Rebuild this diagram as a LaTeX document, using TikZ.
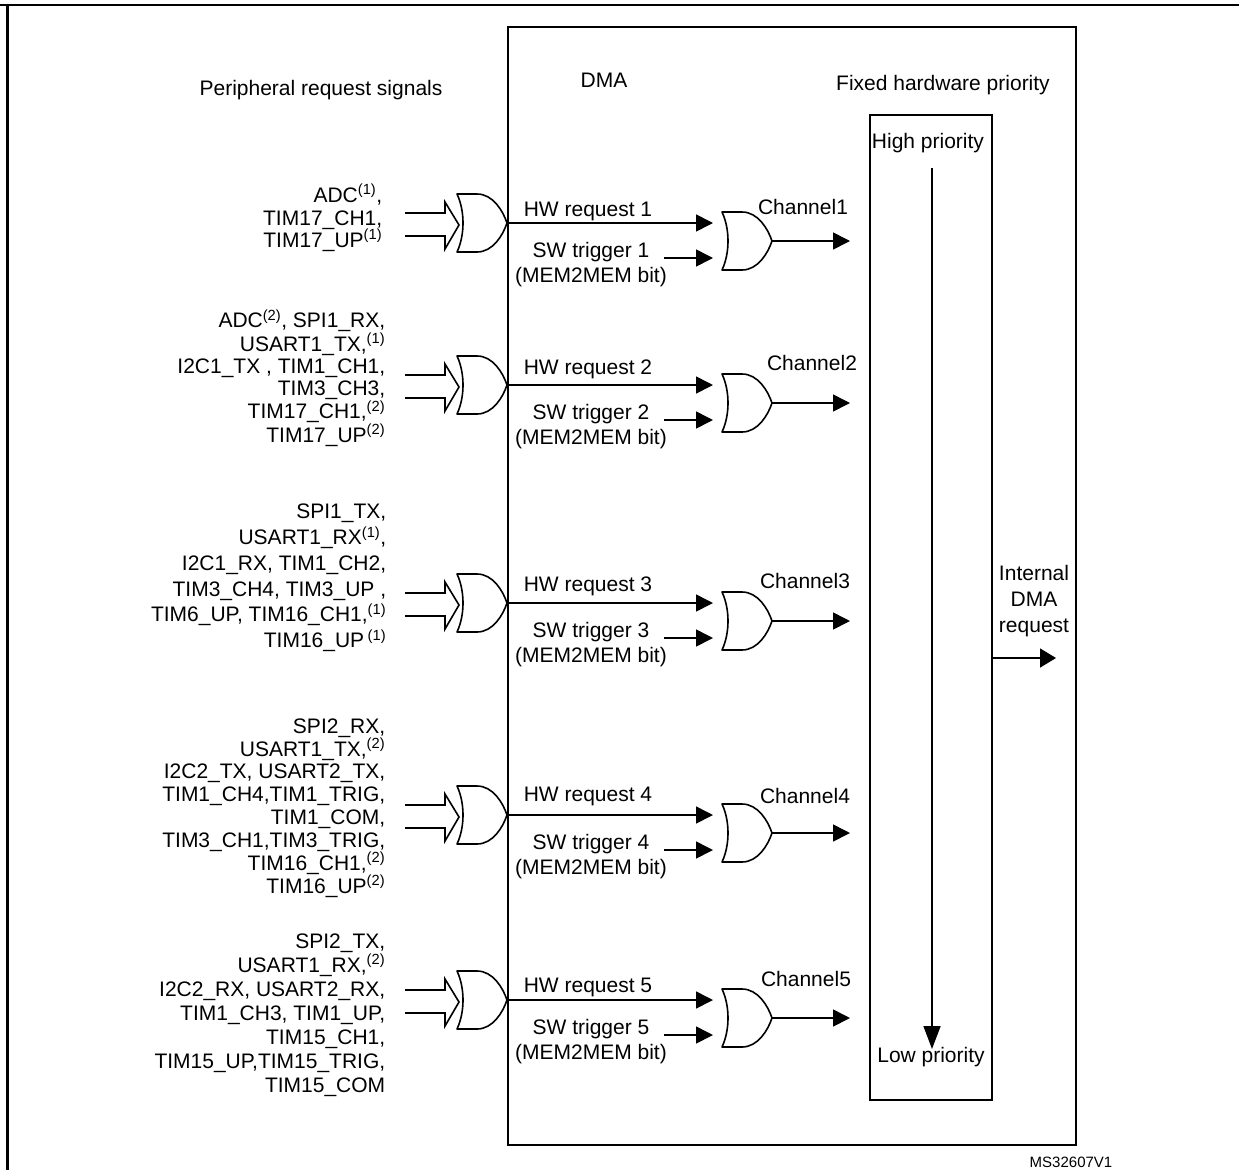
\documentclass[tikz,border=0pt]{standalone}
\usepackage{fontspec}
\setmainfont{Liberation Sans}
\usetikzlibrary{arrows.meta,calc}
\newcommand{\myfn}[1]{\textsuperscript{(#1)}}
\newcommand{\mycfn}[1]{,\textsuperscript{(#1)}}
\tikzset{
  lbl/.style={inner sep=0pt, font=\fontsize{21}{22.5}\selectfont},
  src/.style={inner sep=0pt, align=right, anchor=east},
  arr/.style={-{Triangle[length=17pt,width=17pt]}},
  gate/.style={line width=1.6pt, line join=round},
  orgate/.pic={
    \draw[gate] (0,-29) -- (20,-29) .. controls (36,-29) and (46,-12) .. (50,0)
      .. controls (46,12) and (36,29) .. (20,29) -- (0,29)
      .. controls (8,12) and (8,-12) .. (0,-29) -- cycle;
    \coordinate (-out) at (50,0);
    \coordinate (-in1) at (-9,-18);
    \coordinate (-in2) at (-9,17);
    \coordinate (-back) at (0,0);
  }
}
\begin{document}
\begin{tikzpicture}[x=1pt,y=-1pt,line width=1.6pt]
\useasboundingbox (0,0) rectangle (1239,1170);
% outer frame
\draw[line width=2.6pt] (0,5) -- (1239,5);
\draw[line width=2.2pt] (7.5,5) -- (7.5,1170);
% DMA box
\draw (508,27) rectangle (1076,1145);
% priority box
\node[draw, inner sep=0pt, minimum width=122pt, minimum height=985pt, anchor=north west] (prio) at (869,114) {};
% headings
\node[lbl] (perh) at (321,90) {Peripheral request signals};
\node[lbl] (dmat) at (604,80) {DMA};
\node[lbl] (fhp) at (943,85) {Fixed hardware priority};
\node[lbl] (hp) at (928,143) {High priority};
\node[lbl] (lp) at (931,1057) {Low priority};
\node[lbl, align=center, font=\fontsize{21}{26}\selectfont] (idr) at (1034,601) {Internal\\DMA\\request};
\node[inner sep=0pt, font=\fontsize{15}{17}\selectfont] (ms) at (1071,1162) {MS32607V1};
% priority arrow
\coordinate (pa) at (932,168);
\coordinate (pb) at (932,1049);
\draw[-{Triangle[length=23pt,width=17pt]}] (pa) -- (pb);
% internal request arrow
\coordinate (ie) at (1056,658);
\draw[-{Triangle[length=16pt,width=19pt]}] (prio.east |- ie) -- (ie);
% rows
\foreach \rw/\hw/\cx/\cy/\hy in {1/223/803/207/211, 2/385/812/363/369, 3/603/805/581/586, 4/815/805/796/796, 5/1000/806/979/987} {
  \pic (gi\rw) at (457,\hw) {orgate};
  \pic (gc\rw) at (722,\hw+18) {orgate};
  \draw[line join=miter] ($(gi\rw-back)+(-52,-10)$) -- ++(40,0) -- ++(0,-11) -- ++(14,23)
     -- ++(-14,24) -- ++(0,-13) -- ++(-40,0);
  \draw[arr] (gi\rw-out) -- (gc\rw-in1);
  \node[lbl] (hw\rw) at (588,\hy) {HW request \rw};
  \node[lbl] (sw\rw) at (591,\hw+29) {SW trigger \rw};
  \node[lbl] (mm\rw) at (591,\hw+54) {(MEM2MEM bit)};
  \draw[arr] ($(sw\rw.east |- gc\rw-in2)+(14,0)$) -- (gc\rw-in2);
  \coordinate (ce\rw) at (850,\hw+18);
  \draw[arr] (gc\rw-out) -- (ce\rw);
  \node[lbl] (ch\rw) at (\cx,\cy) {Channel\rw};
}
% peripheral request signal lists
\node[src, font=\fontsize{21}{22.5}\selectfont] (s1) at (383,218)
  {ADC\myfn{1},\\TIM17\_CH1,\\TIM17\_UP\myfn{1}};
\node[src, font=\fontsize{21}{22.2}\selectfont] (s2) at (386,378)
  {ADC\myfn{2}, SPI1\_RX,\\USART1\_TX\mycfn{1}\\I2C1\_TX , TIM1\_CH1,\\TIM3\_CH3,\\TIM17\_CH1\mycfn{2}\\TIM17\_UP\myfn{2}};
\node[src, font=\fontsize{21}{25.8}\selectfont] (s3) at (387,578)
  {SPI1\_TX,\\USART1\_RX\myfn{1},\\I2C1\_RX, TIM1\_CH2,\\TIM3\_CH4, TIM3\_UP ,\\TIM6\_UP, TIM16\_CH1\mycfn{1}\\TIM16\_UP\,\myfn{1}};
\node[src, font=\fontsize{21}{22.9}\selectfont] (s4) at (386,808)
  {SPI2\_RX,\\USART1\_TX\mycfn{2}\\I2C2\_TX, USART2\_TX,\\TIM1\_CH4,TIM1\_TRIG,\\TIM1\_COM,\\TIM3\_CH1,TIM3\_TRIG,\\TIM16\_CH1\mycfn{2}\\TIM16\_UP\myfn{2}};
\node[src, font=\fontsize{21}{24}\selectfont] (s5) at (386,1015)
  {SPI2\_TX,\\USART1\_RX\mycfn{2}\\I2C2\_RX, USART2\_RX,\\TIM1\_CH3, TIM1\_UP,\\TIM15\_CH1,\\TIM15\_UP,TIM15\_TRIG,\\TIM15\_COM};
\end{tikzpicture}
\end{document}
